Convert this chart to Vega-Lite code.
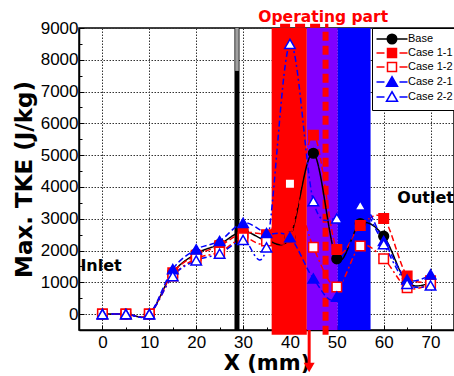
{
  "$schema": "https://vega.github.io/schema/vega-lite/v6.json",
  "width": 375,
  "height": 302,
  "autosize": "none",
  "padding": {"left": 79, "top": 28, "right": 0, "bottom": 46},
  "background": "white",
  "resolve": {
    "axis": {"x": "independent", "y": "independent"},
    "legend": {"fill": "independent", "stroke": "independent", "shape": "independent", "strokeDash": "independent"}
  },
  "config": {
    "view": {"stroke": "black", "strokeWidth": 1.5},
    "axis": {
      "labelFont": "Liberation Sans", "labelFontSize": 17, "labelColor": "black",
      "titleFont": "DejaVu Sans", "titleFontWeight": "bold", "titleFontSize": 21, "titleColor": "black",
      "domainColor": "black", "domainWidth": 1.5, "tickColor": "black", "tickWidth": 1,
      "gridColor": "#333333", "gridDash": [1.5, 1.5], "gridWidth": 1, "zindex": 1, "labelFlush": false
    },
    "legend": {
      "orient": "none", "legendX": 293, "legendY": 0,
      "strokeColor": "black", "strokeWidth": 1, "padding": 5,
      "labelFont": "Liberation Sans", "labelFontSize": 11, "labelColor": "black",
      "symbolSize": 100, "symbolOffset": 9, "labelOffset": 10, "rowPadding": -2, "symbolStrokeWidth": 1.5
    }
  },
  "datasets": {
    "tke": [
      {"series": "Base", "x": 0, "tke": 0}, {"series": "Base", "x": 5, "tke": 0}, {"series": "Base", "x": 10, "tke": 0},
      {"series": "Base", "x": 15, "tke": 1300}, {"series": "Base", "x": 20, "tke": 1900}, {"series": "Base", "x": 25, "tke": 2200},
      {"series": "Base", "x": 30, "tke": 2600}, {"series": "Base", "x": 35, "tke": 2320}, {"series": "Base", "x": 40, "tke": 2420},
      {"series": "Base", "x": 45, "tke": 5060}, {"series": "Base", "x": 50, "tke": 1740}, {"series": "Base", "x": 55, "tke": 2850},
      {"series": "Base", "x": 60, "tke": 2450}, {"series": "Base", "x": 65, "tke": 990}, {"series": "Base", "x": 70, "tke": 1000},
      {"series": "Case 1-1", "x": 0, "tke": 0}, {"series": "Case 1-1", "x": 5, "tke": 0}, {"series": "Case 1-1", "x": 10, "tke": 0},
      {"series": "Case 1-1", "x": 15, "tke": 1300}, {"series": "Case 1-1", "x": 20, "tke": 1850}, {"series": "Case 1-1", "x": 25, "tke": 2150},
      {"series": "Case 1-1", "x": 30, "tke": 2550}, {"series": "Case 1-1", "x": 35, "tke": 2500}, {"series": "Case 1-1", "x": 40, "tke": 2420},
      {"series": "Case 1-1", "x": 45, "tke": 5630}, {"series": "Case 1-1", "x": 50, "tke": 2030}, {"series": "Case 1-1", "x": 55, "tke": 2790},
      {"series": "Case 1-1", "x": 60, "tke": 3010}, {"series": "Case 1-1", "x": 65, "tke": 1200}, {"series": "Case 1-1", "x": 70, "tke": 1050},
      {"series": "Case 1-2", "x": 0, "tke": 0}, {"series": "Case 1-2", "x": 5, "tke": 0}, {"series": "Case 1-2", "x": 10, "tke": 0},
      {"series": "Case 1-2", "x": 15, "tke": 1200}, {"series": "Case 1-2", "x": 20, "tke": 1750}, {"series": "Case 1-2", "x": 25, "tke": 1950},
      {"series": "Case 1-2", "x": 30, "tke": 2400}, {"series": "Case 1-2", "x": 35, "tke": 2300}, {"series": "Case 1-2", "x": 40, "tke": 4100},
      {"series": "Case 1-2", "x": 45, "tke": 2100}, {"series": "Case 1-2", "x": 50, "tke": 850}, {"series": "Case 1-2", "x": 55, "tke": 2140},
      {"series": "Case 1-2", "x": 60, "tke": 1740}, {"series": "Case 1-2", "x": 65, "tke": 830}, {"series": "Case 1-2", "x": 70, "tke": 950},
      {"series": "Case 2-1", "x": 0, "tke": 0}, {"series": "Case 2-1", "x": 5, "tke": 0}, {"series": "Case 2-1", "x": 10, "tke": 0},
      {"series": "Case 2-1", "x": 15, "tke": 1415}, {"series": "Case 2-1", "x": 20, "tke": 2035}, {"series": "Case 2-1", "x": 25, "tke": 2300},
      {"series": "Case 2-1", "x": 30, "tke": 2870}, {"series": "Case 2-1", "x": 35, "tke": 2550}, {"series": "Case 2-1", "x": 40, "tke": 2420},
      {"series": "Case 2-1", "x": 45, "tke": 1120}, {"series": "Case 2-1", "x": 50, "tke": 550}, {"series": "Case 2-1", "x": 55, "tke": 3300},
      {"series": "Case 2-1", "x": 60, "tke": 2300}, {"series": "Case 2-1", "x": 65, "tke": 1090}, {"series": "Case 2-1", "x": 70, "tke": 1250},
      {"series": "Case 2-2", "x": 0, "tke": 0}, {"series": "Case 2-2", "x": 5, "tke": 0}, {"series": "Case 2-2", "x": 10, "tke": 0},
      {"series": "Case 2-2", "x": 15, "tke": 1195}, {"series": "Case 2-2", "x": 20, "tke": 1690}, {"series": "Case 2-2", "x": 25, "tke": 1900},
      {"series": "Case 2-2", "x": 30, "tke": 2330}, {"series": "Case 2-2", "x": 35, "tke": 2100}, {"series": "Case 2-2", "x": 40, "tke": 8500},
      {"series": "Case 2-2", "x": 45, "tke": 3550}, {"series": "Case 2-2", "x": 50, "tke": 3010}, {"series": "Case 2-2", "x": 55, "tke": 3420},
      {"series": "Case 2-2", "x": 60, "tke": 2200}, {"series": "Case 2-2", "x": 65, "tke": 950}, {"series": "Case 2-2", "x": 70, "tke": 900}
    ]
  },
  "layer": [
    {
      "data": {"values": [{"start": 36.1, "end": 43.6}]},
      "mark": {"type": "rect", "color": "#ff0000"},
      "encoding": {
        "x": {"field": "start", "type": "quantitative", "axis": null},
        "x2": {"field": "end"},
        "y": {"datum": -650, "type": "quantitative", "axis": null},
        "y2": {"datum": 9000}
      }
    },
    {
      "data": {"values": [{"start": 43.6, "end": 50.2}]},
      "mark": {"type": "rect", "color": "#8000ff"},
      "encoding": {
        "x": {"field": "start", "type": "quantitative", "axis": null},
        "x2": {"field": "end"},
        "y": {"datum": -500, "type": "quantitative", "axis": null},
        "y2": {"datum": 9000}
      }
    },
    {
      "data": {"values": [{"start": 50.2, "end": 57.2}]},
      "mark": {"type": "rect", "color": "#0000ff"},
      "encoding": {
        "x": {"field": "start", "type": "quantitative", "axis": null},
        "x2": {"field": "end"},
        "y": {"datum": -500, "type": "quantitative", "axis": null},
        "y2": {"datum": 9000}
      }
    },
    {
      "data": {"values": [{}]},
      "mark": {"type": "rule", "color": "#ff0000", "strokeWidth": 6, "strokeDash": [9, 5]},
      "encoding": {
        "x": {"datum": 47.6, "type": "quantitative", "axis": null},
        "y": {"datum": -650, "type": "quantitative", "axis": null},
        "y2": {"datum": 9000}
      }
    },
    {
      "data": {"values": [{}]},
      "mark": {"type": "rule", "color": "#ff0000", "strokeWidth": 4, "strokeDash": [10, 5]},
      "encoding": {
        "x": {"datum": 37.9, "type": "quantitative", "axis": null},
        "x2": {"datum": 48.2},
        "y": {"datum": 9070, "type": "quantitative", "axis": null}
      }
    },
    {
      "data": {"values": [{}]},
      "mark": {"type": "rule", "color": "black", "strokeWidth": 5},
      "encoding": {
        "x": {"datum": 28.7, "type": "quantitative", "axis": null},
        "y": {"datum": -500, "type": "quantitative", "axis": null},
        "y2": {"datum": 9000}
      }
    },
    {
      "data": {"values": [{}]},
      "mark": {"type": "rule", "color": "#a0a0a0", "strokeWidth": 3.5},
      "encoding": {
        "x": {"datum": 28.7, "type": "quantitative", "axis": null},
        "y": {"datum": 7650, "type": "quantitative", "axis": null},
        "y2": {"datum": 9000}
      }
    },
    {
      "data": {"values": [{}]},
      "mark": {"type": "rule", "color": "#ff0000", "strokeWidth": 3},
      "encoding": {
        "x": {"datum": 44.1, "type": "quantitative", "axis": null},
        "y": {"datum": -500, "type": "quantitative", "axis": null},
        "y2": {"datum": -1550}
      }
    },
    {
      "data": {"values": [{}]},
      "mark": {"type": "point", "shape": "triangle-down", "size": 120, "filled": true, "color": "#ff0000", "opacity": 1},
      "encoding": {
        "x": {"datum": 44.1, "type": "quantitative", "axis": null},
        "y": {"datum": -1680, "type": "quantitative", "axis": null}
      }
    },
    {
      "data": {"name": "tke"},
      "mark": {"type": "line", "interpolate": "cardinal", "strokeWidth": 1.5},
      "encoding": {
        "x": {
          "field": "x", "type": "quantitative", "title": "X (mm)",
          "scale": {"domain": [-5, 75], "nice": false, "zero": false},
          "axis": {
            "values": [0, 5, 10, 15, 20, 25, 30, 35, 40, 45, 50, 55, 60, 65, 70],
            "format": "d",
            "labelExpr": "datum.value % 10 === 0 ? datum.label : ''",
            "grid": true,
            "gridOpacity": {"condition": {"test": "datum.value % 10 === 0", "value": 1}, "value": 0},
            "tickSize": {"condition": {"test": "datum.value % 10 === 0", "value": -5}, "value": -3},
            "labelPadding": 9, "titlePadding": 2
          }
        },
        "y": {
          "field": "tke", "type": "quantitative", "title": "Max. TKE (J/kg)",
          "scale": {"domain": [-500, 9000], "nice": false, "zero": false},
          "axis": {
            "values": [0, 500, 1000, 1500, 2000, 2500, 3000, 3500, 4000, 4500, 5000, 5500, 6000, 6500, 7000, 7500, 8000, 8500, 9000],
            "format": "d",
            "labelExpr": "datum.value % 1000 === 0 ? datum.label : ''",
            "grid": true,
            "gridOpacity": {"condition": {"test": "datum.value % 1000 === 0", "value": 1}, "value": 0},
            "tickSize": {"condition": {"test": "datum.value % 1000 === 0", "value": -5}, "value": -3},
            "labelPadding": 6, "titlePadding": 4, "titleFontSize": 23
          }
        },
        "stroke": {
          "field": "series", "type": "nominal", "legend": null,
          "scale": {"domain": ["Base", "Case 1-1", "Case 1-2", "Case 2-1", "Case 2-2"], "range": ["#000000", "#ff0000", "#ff0000", "#0000ff", "#0000ff"]}
        },
        "strokeDash": {
          "field": "series", "type": "nominal", "legend": null,
          "scale": {"domain": ["Base", "Case 1-1", "Case 1-2", "Case 2-1", "Case 2-2"], "range": [[1, 0], [6, 3], [6, 3, 2, 3], [6, 3], [6, 3, 2, 3]]}
        }
      }
    },
    {
      "data": {"name": "tke"},
      "transform": [{"filter": "datum.series === 'Base'"}],
      "mark": {"type": "point", "shape": "circle", "size": 95, "strokeWidth": 1.5, "filled": true, "opacity": 1},
      "encoding": {
        "x": {"field": "x", "type": "quantitative", "axis": null},
        "y": {"field": "tke", "type": "quantitative", "axis": null},
        "stroke": {"field": "series", "type": "nominal", "legend": null,
          "scale": {"domain": ["Base", "Case 1-1", "Case 1-2", "Case 2-1", "Case 2-2"], "range": ["#000000", "#ff0000", "#ff0000", "#0000ff", "#0000ff"]}},
        "fill": {"field": "series", "type": "nominal", "legend": null,
          "scale": {"domain": ["Base", "Case 1-1", "Case 1-2", "Case 2-1", "Case 2-2"], "range": ["#000000", "#ff0000", "#ffffff", "#0000ff", "#ffffff"]}}
      }
    },
    {
      "data": {"name": "tke"},
      "transform": [{"filter": "datum.series === 'Case 1-1' || datum.series === 'Case 1-2'"}],
      "mark": {"type": "point", "shape": "square", "size": 90, "strokeWidth": 1.5, "filled": true, "opacity": 1},
      "encoding": {
        "x": {"field": "x", "type": "quantitative", "axis": null},
        "y": {"field": "tke", "type": "quantitative", "axis": null},
        "stroke": {"field": "series", "type": "nominal", "legend": null,
          "scale": {"domain": ["Base", "Case 1-1", "Case 1-2", "Case 2-1", "Case 2-2"], "range": ["#000000", "#ff0000", "#ff0000", "#0000ff", "#0000ff"]}},
        "fill": {"field": "series", "type": "nominal", "legend": null,
          "scale": {"domain": ["Base", "Case 1-1", "Case 1-2", "Case 2-1", "Case 2-2"], "range": ["#000000", "#ff0000", "#ffffff", "#0000ff", "#ffffff"]}}
      }
    },
    {
      "data": {"name": "tke"},
      "transform": [{"filter": "datum.series === 'Case 2-1' || datum.series === 'Case 2-2'"}],
      "mark": {"type": "point", "shape": "triangle-up", "size": 110, "strokeWidth": 1.5, "filled": true, "opacity": 1},
      "encoding": {
        "x": {"field": "x", "type": "quantitative", "axis": null},
        "y": {"field": "tke", "type": "quantitative", "axis": null},
        "stroke": {"field": "series", "type": "nominal", "legend": null,
          "scale": {"domain": ["Base", "Case 1-1", "Case 1-2", "Case 2-1", "Case 2-2"], "range": ["#000000", "#ff0000", "#ff0000", "#0000ff", "#0000ff"]}},
        "fill": {"field": "series", "type": "nominal", "legend": null,
          "scale": {"domain": ["Base", "Case 1-1", "Case 1-2", "Case 2-1", "Case 2-2"], "range": ["#000000", "#ff0000", "#ffffff", "#0000ff", "#ffffff"]}}
      }
    },
    {
      "data": {"name": "tke"},
      "mark": {"type": "point", "opacity": 0, "filled": true, "strokeWidth": 1.5},
      "encoding": {
        "x": {"field": "x", "type": "quantitative", "axis": null},
        "y": {"field": "tke", "type": "quantitative", "axis": null},
        "shape": {"field": "series", "type": "nominal",
          "legend": {"title": null, "fillColor": "white",
            "encode": {"symbols": {"update": {"fill": {"scale": "fill", "field": "value"}, "stroke": {"scale": "stroke", "field": "value"}, "opacity": {"value": 1}, "fillOpacity": {"value": 1}}}}},
          "scale": {"domain": ["Base", "Case 1-1", "Case 1-2", "Case 2-1", "Case 2-2"],
            "range": [
              "M-3.1,0L3.1,0M0.95,0A0.95,0.95,0,1,1,-0.95,0A0.95,0.95,0,1,1,0.95,0Z",
              "M-3.1,0L-1.5,0M1.5,0L3.1,0M-0.9,-0.9L0.9,-0.9L0.9,0.9L-0.9,0.9Z",
              "M-3.1,0L-1.5,0M1.5,0L3.1,0M-0.9,-0.9L0.9,-0.9L0.9,0.9L-0.9,0.9Z",
              "M-3.1,0L-1.5,0M1.5,0L3.1,0M0,-1.05L1.1,0.85L-1.1,0.85Z",
              "M-3.1,0L-1.5,0M1.5,0L3.1,0M0,-1.05L1.1,0.85L-1.1,0.85Z"
            ]}},
        "stroke": {"field": "series", "type": "nominal",
          "legend": {"title": null, "fillColor": "white",
            "encode": {"symbols": {"update": {"fill": {"scale": "fill", "field": "value"}, "stroke": {"scale": "stroke", "field": "value"}, "opacity": {"value": 1}, "fillOpacity": {"value": 1}}}}},
          "scale": {"domain": ["Base", "Case 1-1", "Case 1-2", "Case 2-1", "Case 2-2"], "range": ["#000000", "#ff0000", "#ff0000", "#0000ff", "#0000ff"]}},
        "fill": {"field": "series", "type": "nominal",
          "legend": {"title": null, "fillColor": "white",
            "encode": {"symbols": {"update": {"fill": {"scale": "fill", "field": "value"}, "stroke": {"scale": "stroke", "field": "value"}, "opacity": {"value": 1}, "fillOpacity": {"value": 1}}}}},
          "scale": {"domain": ["Base", "Case 1-1", "Case 1-2", "Case 2-1", "Case 2-2"], "range": ["#000000", "#ff0000", "#ffffff", "#0000ff", "#ffffff"]}}
      }
    },
    {
      "data": {"values": [{}]},
      "mark": {"type": "text", "text": "Inlet", "font": "DejaVu Sans", "fontWeight": "bold", "fontSize": 16, "align": "left", "baseline": "middle", "color": "black"},
      "encoding": {
        "x": {"datum": -4.7, "type": "quantitative", "axis": null},
        "y": {"datum": 1520, "type": "quantitative", "axis": null}
      }
    },
    {
      "data": {"values": [{}]},
      "mark": {"type": "text", "text": "Outlet", "font": "DejaVu Sans", "fontWeight": "bold", "fontSize": 16, "align": "left", "baseline": "middle", "color": "black"},
      "encoding": {
        "x": {"datum": 62.9, "type": "quantitative", "axis": null},
        "y": {"datum": 3650, "type": "quantitative", "axis": null}
      }
    },
    {
      "data": {"values": [{}]},
      "mark": {"type": "text", "text": "Operating part", "font": "DejaVu Sans", "fontWeight": "bold", "fontSize": 15.5, "align": "center", "baseline": "middle", "color": "#ff0000"},
      "encoding": {
        "x": {"datum": 47.1, "type": "quantitative", "axis": null},
        "y": {"datum": 9350, "type": "quantitative", "axis": null}
      }
    }
  ]
}
